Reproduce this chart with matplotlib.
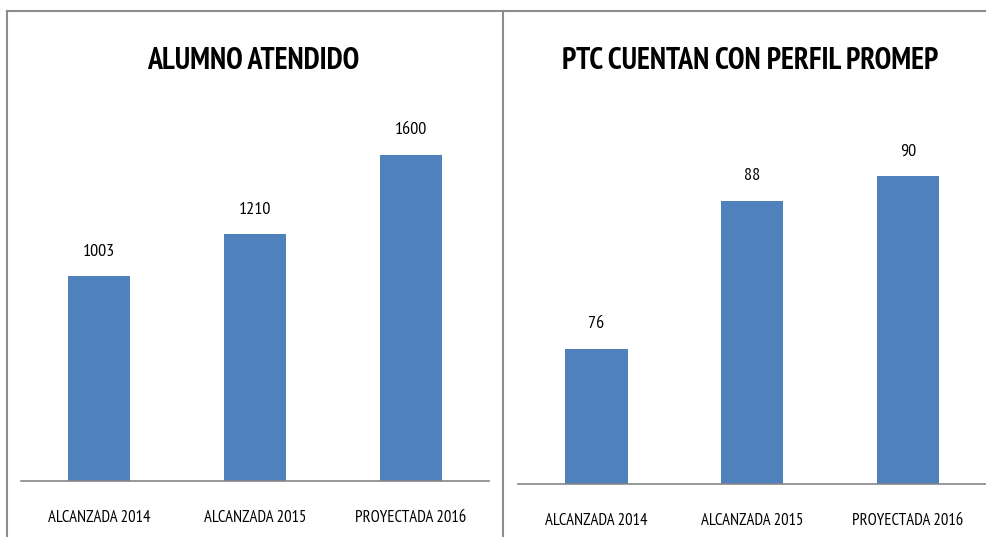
import numpy as np
import matplotlib
matplotlib.use("Agg")
import matplotlib.pyplot as plt
from matplotlib.lines import Line2D

categorias = ["ALCANZADA 2014", "ALCANZADA 2015", "PROYECTADA 2016"]
alumnos = [1003, 1210, 1600]
ptc = [76, 88, 90]

plt.rcParams['font.family'] = ['PT Sans Narrow', 'DejaVu Sans']
azul = "#4F81BD"
gris = "#868686"

W, H = 987, 537
fig = plt.figure(figsize=(W / 100, H / 100), dpi=100)

def px(x0, y0, x1, y1):
    # caja en pixeles -> coords de figura
    return [x0 / W, 1 - y1 / H, (x1 - x0) / W, (y1 - y0) / H]

def panel(rect, valores, ymin, ymax, titulo, tx):
    ax = fig.add_axes(rect)
    x = np.arange(len(categorias))
    barras = ax.bar(x, valores, width=0.4, color=azul, zorder=2)
    ax.bar_label(barras, labels=[str(v) for v in valores], padding=12, fontsize=13)
    ax.set_xlim(-0.5, len(categorias) - 0.5)
    ax.set_ylim(ymin, ymax)
    ax.set_xticks(x)
    ax.set_xticklabels(categorias, fontsize=12)
    ax.tick_params(axis='x', length=0, pad=21)
    ax.set_yticks([])
    for s in ['top', 'right', 'left']:
        ax.spines[s].set_visible(False)
    ax.spines['bottom'].set_color(gris)
    ax.spines['bottom'].set_linewidth(1.2)
    ax.set_facecolor('none')
    fig.text(tx / W, 1 - 61 / H, titulo, ha='center', va='center',
             fontsize=21.5, fontweight='bold')
    return ax

panel(px(21, 114, 489, 481), alumnos, 0, 1800, "ALUMNO ATENDIDO", 253)
panel(px(518.5, 114.6, 986, 484), ptc, 65, 95, "PTC CUENTAN CON PERFIL PROMEP", 750)

# bordes de los recuadros
borde = "#8c8c8c"
fig.add_artist(Line2D([7 / W, 1], [1 - 11 / H, 1 - 11 / H], color=borde, lw=1.5))
fig.add_artist(Line2D([7 / W, 7 / W], [0, 1 - 11 / H], color=borde, lw=1.5))
fig.add_artist(Line2D([503 / W, 503 / W], [0, 1 - 11 / H], color=borde, lw=1.5))

fig.savefig("out.png", dpi=100)
